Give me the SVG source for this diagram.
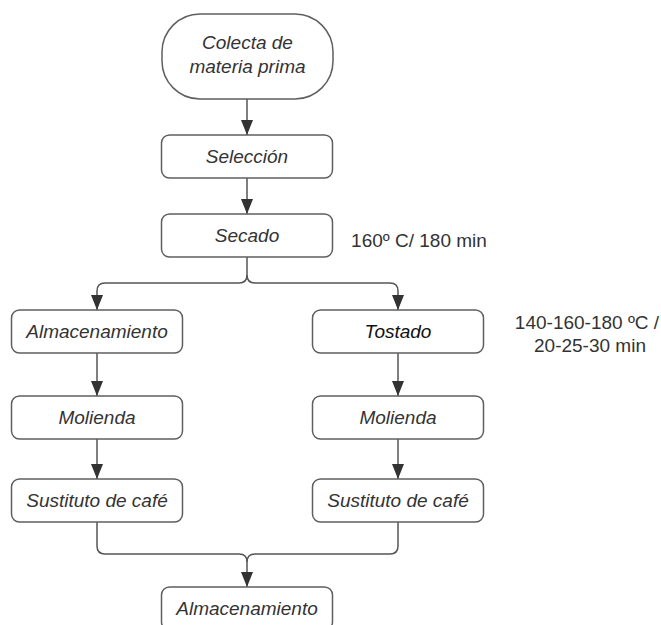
<svg xmlns="http://www.w3.org/2000/svg" width="661" height="625" viewBox="0 0 661 625">
<defs>
<style>
.box{fill:#fff;stroke:#5f5f5f;stroke-width:1.5}
.t{font-family:"Liberation Sans",Arial,sans-serif;font-size:19px;font-style:italic;fill:#333;text-anchor:middle}
.lbl{font-family:"Liberation Sans",Arial,sans-serif;font-size:19px;fill:#333;text-anchor:middle}
.c{fill:none;stroke:#555;stroke-width:1.5}
</style>
<marker id="arr" markerUnits="userSpaceOnUse" viewBox="0 0 15 12" refX="15" refY="6" markerWidth="15" markerHeight="12" orient="auto">
<path d="M0,0 L15,6 L0,12 z" fill="#333"/>
</marker>
</defs>
<rect width="661" height="625" fill="#fff"/>
<g id="connectors">
<path class="c" d="M247,99 V135" marker-end="url(#arr)"/>
<path class="c" d="M247,178 V214" marker-end="url(#arr)"/>
<path class="c" d="M247,257 V275 Q247,283 239,283 H105 Q97,283 97,291 V310" marker-end="url(#arr)"/>
<path class="c" d="M247,275 Q247,283 255,283 H390 Q398,283 398,291 V310" marker-end="url(#arr)"/>
<path class="c" d="M97,353 V396" marker-end="url(#arr)"/>
<path class="c" d="M97,439 V479" marker-end="url(#arr)"/>
<path class="c" d="M398,353 V396" marker-end="url(#arr)"/>
<path class="c" d="M398,439 V479" marker-end="url(#arr)"/>
<path class="c" d="M97,522 V546 Q97,554 105,554 H239 Q247,554 247,562 V587" marker-end="url(#arr)"/>
<path class="c" d="M398,522 V546 Q398,554 390,554 H255 Q247,554 247,562"/>
</g>
<g id="n1"><rect class="box" x="162" y="14" width="171" height="85" rx="38" ry="38"/><text class="t" x="247.5" y="49">Colecta de</text><text class="t" x="247.5" y="73">materia prima</text></g>
<g id="n2"><rect class="box" x="161.5" y="135" width="171" height="43" rx="8"/><text class="t" x="247" y="163">Selección</text></g>
<g id="n3"><rect class="box" x="161.5" y="214" width="171" height="43" rx="8"/><text class="t" x="247" y="242">Secado</text></g>
<g id="l1"><text class="lbl" x="419" y="247">160º C/ 180 min</text></g>
<g id="n4"><rect class="box" x="11.5" y="310" width="171" height="43" rx="8"/><text class="t" x="97" y="338">Almacenamiento</text></g>
<g id="n5"><rect class="box" x="312.5" y="310" width="171" height="43" rx="8"/><text class="t" x="398" y="338" style="fill:#111">Tostado</text></g>
<g id="l2"><text class="lbl" x="587" y="329">140-160-180 ºC /</text><text class="lbl" x="590" y="352">20-25-30 min</text></g>
<g id="n6"><rect class="box" x="11.5" y="396" width="171" height="43" rx="8"/><text class="t" x="97" y="424">Molienda</text></g>
<g id="n7"><rect class="box" x="312.5" y="396" width="171" height="43" rx="8"/><text class="t" x="398" y="424">Molienda</text></g>
<g id="n8"><rect class="box" x="11.5" y="479" width="171" height="43" rx="8"/><text class="t" x="97" y="507">Sustituto de café</text></g>
<g id="n9"><rect class="box" x="312.5" y="479" width="171" height="43" rx="8"/><text class="t" x="398" y="507">Sustituto de café</text></g>
<g id="n10"><rect class="box" x="161.5" y="587" width="171" height="43" rx="8"/><text class="t" x="247" y="615">Almacenamiento</text></g>
</svg>
